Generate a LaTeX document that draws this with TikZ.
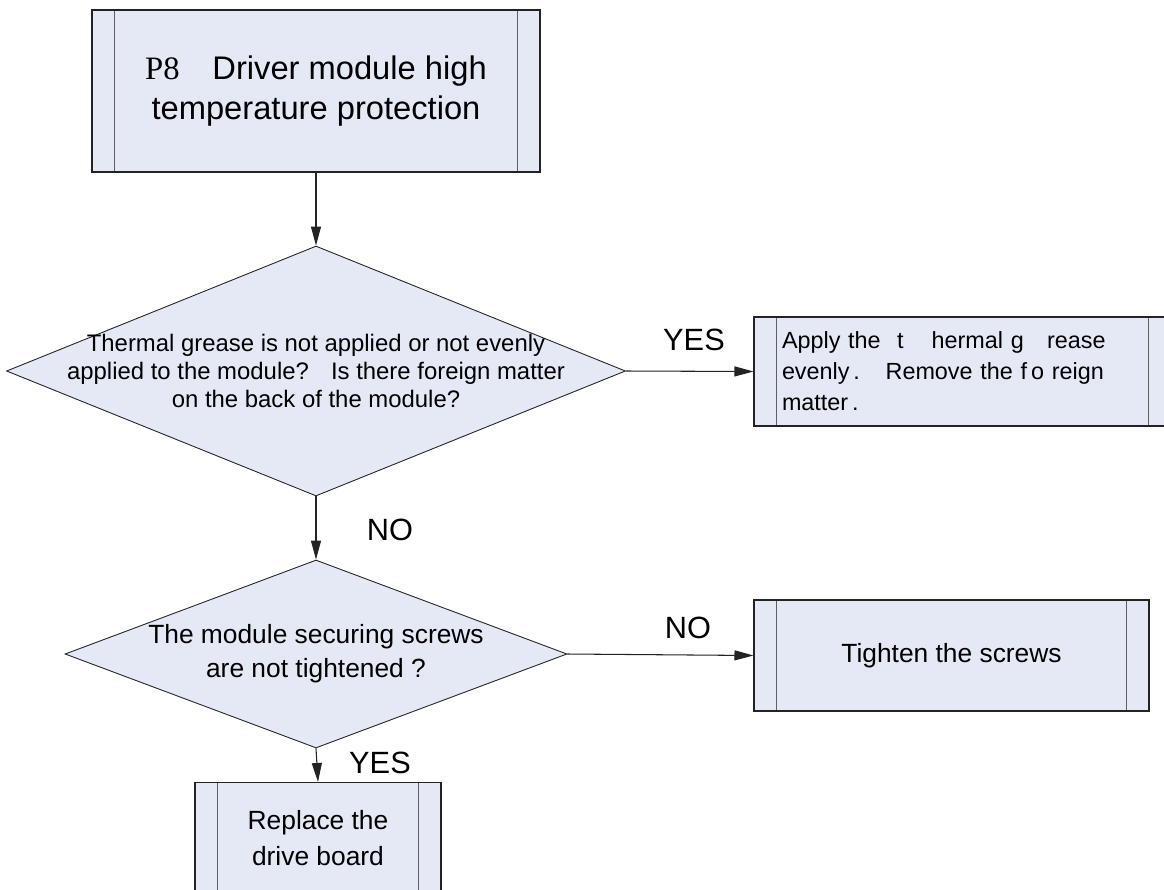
\documentclass[tikz,border=0pt]{standalone}
\usepackage{fontspec}
\setmainfont{Liberation Sans}
\newfontfamily\pfont{Liberation Serif}
\usetikzlibrary{arrows.meta, positioning, shapes.geometric}
\definecolor{boxfill}{RGB}{229,233,245}
\definecolor{linec}{RGB}{35,35,35}
\definecolor{innerc}{RGB}{95,95,95}
\newcommand{\fsz}[2]{\fontsize{#1}{#2}\selectfont}

\begin{document}
\begin{tikzpicture}[
    every node/.style={align=center},
    proc/.style={draw=linec, fill=boxfill, line width=0.6pt, inner sep=0pt,
                 path picture={
                   \draw[innerc, line width=0.6pt]
                     ([xshift=0.45cm]path picture bounding box.north west) --
                     ([xshift=0.45cm]path picture bounding box.south west);
                   \draw[innerc, line width=0.6pt]
                     ([xshift=-0.45cm]path picture bounding box.north east) --
                     ([xshift=-0.45cm]path picture bounding box.south east);}},
    decision/.style={draw=linec, fill=boxfill, line width=0.5pt, diamond,
                     inner sep=0pt},
    lbl/.style={font=\fsz{17.5}{20}},
    arr/.style={-{Triangle[length=0.38cm, width=0.2cm]}, linec, line width=0.6pt}
]
\useasboundingbox (0,0) rectangle (23.28,-17.8);

% boxes and decisions
\node[proc, minimum width=8.96cm, minimum height=3.24cm, font=\fsz{18.6}{22.7}]
    (start) at (6.32,-1.82) {{\pfont P8}\hspace{1em}Driver module high\\temperature protection};
\node[decision, minimum width=12.38cm, minimum height=5cm] (grease) at (6.32,-7.42) {};
\node[font=\fsz{13.6}{15.9}] (greasetxt) at (grease)
    {Thermal grease is not applied or not evenly\\applied to the module?~~ Is there foreign matter\\on the back of the module?};
\node[proc, minimum width=8.34cm, minimum height=2.18cm, align=left,
      text width=7.22cm, inner xsep=0.56cm, font=\fsz{13.3}{17.6}]
    (apply) at (19.25,-7.43)
    {Apply the\hspace{0.7em}t\hspace{1.2em}hermal g\hspace{1em}rease\\
     evenly\,.\hspace{1.1em}Remove the f\,o reign\\matter\,.};
\node[decision, minimum width=10.04cm, minimum height=3.76cm] (screws) at (6.32,-13.08) {};
\node[font=\fsz{15}{19.3}] (screwstxt) at (screws)
    {The module securing screws\\are not tightened ?};
\node[proc, minimum width=7.9cm, minimum height=2.22cm, font=\fsz{15}{19}]
    (tighten) at (19.03,-13.11) {Tighten the screws};
\node[proc, minimum width=4.92cm, minimum height=2.22cm, font=\fsz{15}{20.4}]
    (replace) at (6.36,-16.76) {Replace the\\drive board};

% labels
\node[lbl] (yes1) at (13.88,-6.8) {YES};
\node[lbl] (no1) at (7.8,-10.6) {NO};
\node[lbl] (no2) at (13.76,-12.56) {NO};
\node[lbl] (yes2) at (7.6,-15.26) {YES};

% connectors
\draw[arr] (start) -- (grease);
\draw[arr] (grease.east) -- (apply.west);
\draw[arr] (grease.south) -- (screws.north);
\draw[arr] (screws.east) -- (tighten.west);
\draw[arr] (screws.south) -- (replace.north);
\end{tikzpicture}
\end{document}
